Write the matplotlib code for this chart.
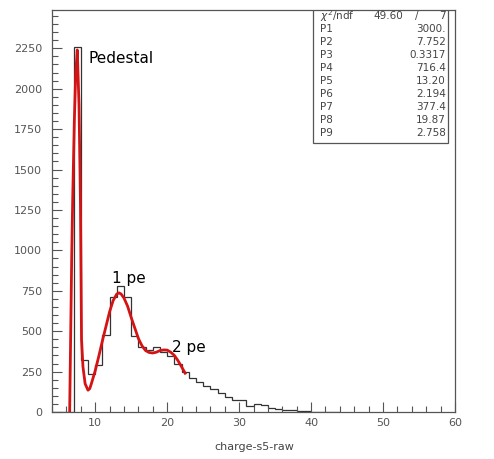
import numpy as np
import matplotlib.pyplot as plt
from matplotlib.patches import Rectangle
from matplotlib.ticker import MultipleLocator

# histogram: unit bins starting at 4
bin_start = 4
counts = [0, 0, 0, 2260, 321, 235, 290, 475, 713, 779,
          709, 470, 400, 385, 405, 373, 345, 300, 245, 208,
          187, 161, 140, 115, 95, 74, 72, 40, 48, 45,
          22, 20, 12, 10, 6, 5, 3, 2, 2, 0]

# fit curve
fit_x = [6.45, 6.6, 6.73, 6.87, 7.1, 7.3, 7.51, 7.75, 7.95, 8.02, 8.1, 8.3, 8.6, 9.0,
         9.25, 9.5, 10.0, 10.5, 11.0, 11.5, 12.0, 12.5, 13.0, 13.3, 13.6, 14.0, 14.5,
         15.0, 15.5, 16.0, 16.5, 17.0, 17.5, 18.0, 18.5, 19.0, 19.5, 20.0, 20.5, 21.0,
         21.5, 22.0, 22.5]
fit_y = [0, 500, 940, 1310, 1800, 2100, 2240, 1900, 1300, 900, 450, 280, 175, 135,
         145, 180, 255, 345, 440, 530, 620, 690, 730, 737, 730, 705, 655,
         585, 520, 455, 410, 380, 368, 365, 370, 380, 384, 383, 370, 350,
         318, 280, 240]

stat_names = ["P1", "P2", "P3", "P4", "P5", "P6", "P7", "P8", "P9"]
stat_vals = ["3000.", "7.752", "0.3317", "716.4", "13.20", "2.194", "377.4", "19.87", "2.758"]
chi2, ndf = "49.60", "7"

fig = plt.figure(figsize=(4.94, 4.59), dpi=100)
ax = fig.add_axes([0.1053, 0.1024, 0.8158, 0.8758])

edges = np.arange(bin_start, bin_start + len(counts) + 1)
ax.stairs(counts, edges, color='#333333', linewidth=0.9)
ax.plot(fit_x, fit_y, color='#d41414', linewidth=2.0, solid_joinstyle='round')

ax.set_xlim(4, 60)
ax.set_ylim(0, 2487)
ax.xaxis.set_major_locator(MultipleLocator(10))
ax.xaxis.set_minor_locator(MultipleLocator(2))
ax.yaxis.set_major_locator(MultipleLocator(250))
ax.yaxis.set_minor_locator(MultipleLocator(50))
ax.tick_params(which='both', direction='in', top=False, right=False,
               colors='#555555', labelsize=8, labelcolor='#555555')
ax.tick_params(which='major', length=7, width=0.8)
ax.tick_params(which='minor', length=4, width=0.8)
ax.tick_params(axis='y', pad=7)
ax.tick_params(axis='x', pad=4)
for sp in ax.spines.values():
    sp.set_color('#555555')
    sp.set_linewidth(0.9)

ax.text(9.0, 2190, "Pedestal", fontsize=11, va='center', ha='left')
ax.text(12.33, 829, "1 pe", fontsize=11, va='center', ha='left')
ax.text(20.67, 402, "2 pe", fontsize=11, va='center', ha='left')

fig.text(254 / 494, 1 - 447 / 459, "charge-s5-raw", fontsize=8, color='#444444',
         ha='center', va='center')

# stats box
x0, x1, y1 = 0.6476, 0.9826, 0.669
ax.add_patch(Rectangle((x0, y1), x1 - x0, 1 - y1, transform=ax.transAxes,
                       facecolor='white', edgecolor='#555555', linewidth=0.9, zorder=5))
row_y = [(412 - (16 + 13 * i)) / 402 for i in range(10)]
tkw = dict(transform=ax.transAxes, fontsize=7.5, color='#444444', va='center', zorder=6)
ax.text(0.665, row_y[0], r"$\chi^2$/ndf", ha='left', **tkw)
ax.text(0.871, row_y[0], chi2, ha='right', **tkw)
ax.text(0.906, row_y[0], "/", ha='center', **tkw)
ax.text(0.9777, row_y[0], ndf, ha='right', **tkw)
for i, (n, v) in enumerate(zip(stat_names, stat_vals)):
    ax.text(0.665, row_y[i + 1], n, ha='left', **tkw)
    ax.text(0.9777, row_y[i + 1], v, ha='right', **tkw)

fig.savefig("out.png", dpi=100)
